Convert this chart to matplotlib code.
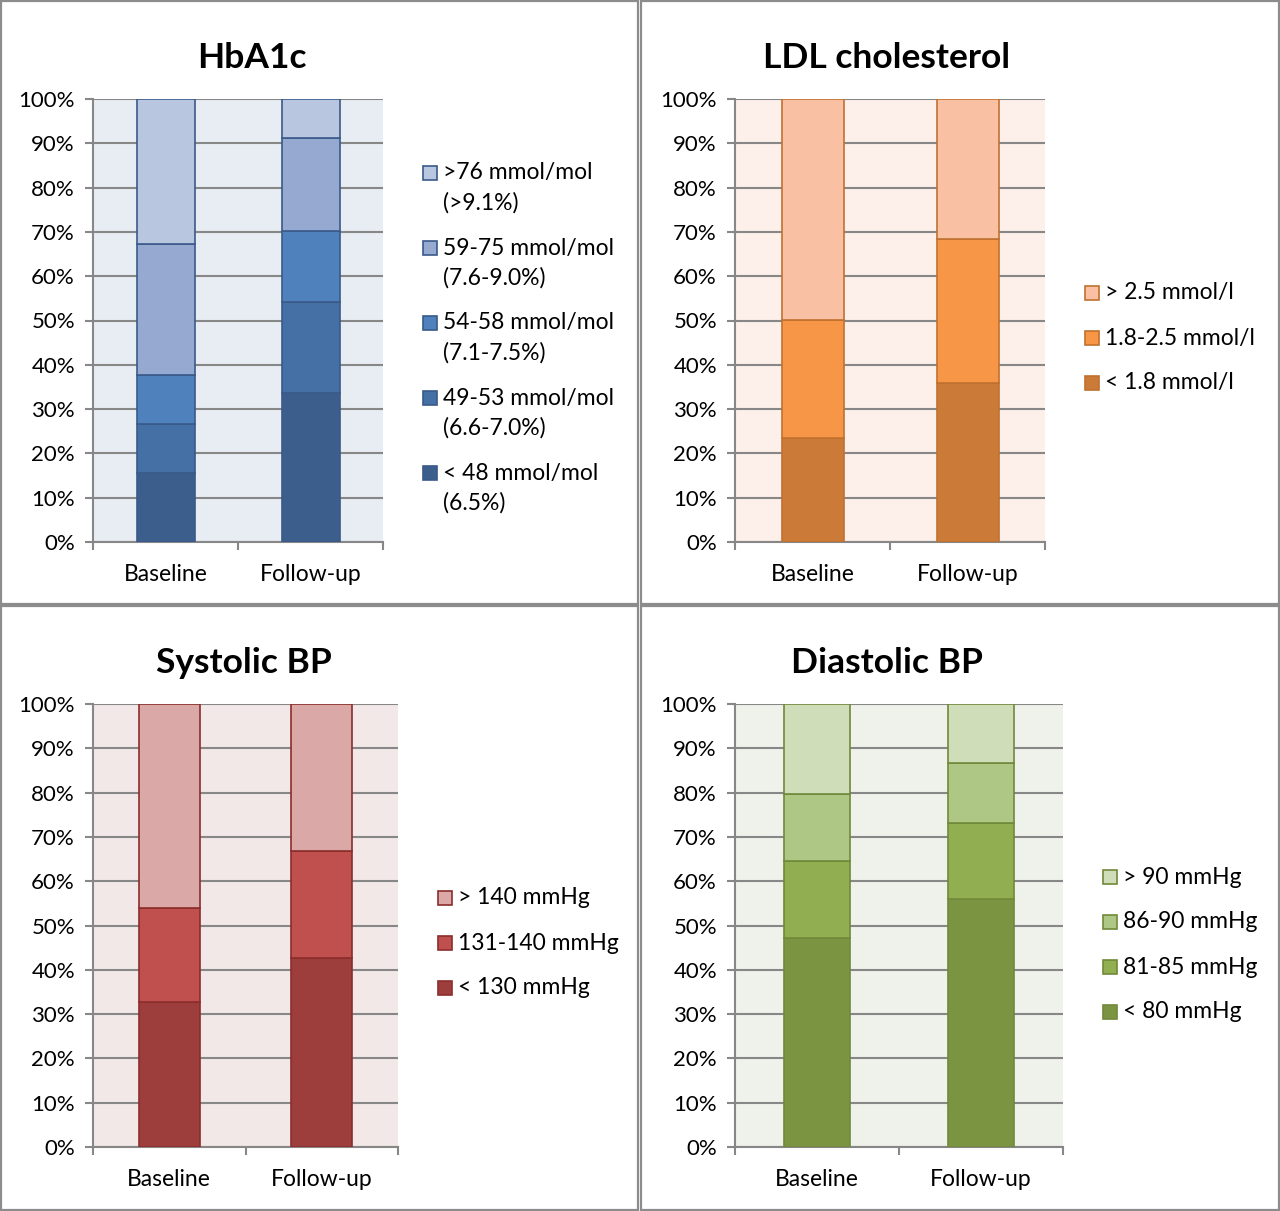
import matplotlib
matplotlib.use('Agg')
import matplotlib.pyplot as plt
from matplotlib.patches import Rectangle
import numpy as np

plt.rcParams['font.family'] = ['Lato', 'DejaVu Sans']

W, H = 1280, 1211

groups = ['Baseline', 'Follow-up']

# HbA1c (bottom segment first)
hba1c_labels = ['< 48 mmol/mol\n(6.5%)', '49-53 mmol/mol\n(6.6-7.0%)',
                '54-58 mmol/mol\n(7.1-7.5%)', '59-75 mmol/mol\n(7.6-9.0%)',
                '>76 mmol/mol\n(>9.1%)']
hba1c_baseline = [15.5, 11.1, 11.1, 29.5, 32.8]
hba1c_followup = [33.6, 20.6, 15.9, 21.2, 8.7]

# LDL cholesterol
ldl_labels = ['< 1.8 mmol/l', '1.8-2.5 mmol/l', '> 2.5 mmol/l']
ldl_baseline = [23.4, 26.7, 49.9]
ldl_followup = [36.0, 32.3, 31.7]

# Systolic BP
sys_labels = ['< 130 mmHg', '131-140 mmHg', '> 140 mmHg']
sys_baseline = [32.8, 21.1, 46.1]
sys_followup = [42.6, 24.3, 33.1]

# Diastolic BP
dia_labels = ['< 80 mmHg', '81-85 mmHg', '86-90 mmHg', '> 90 mmHg']
dia_baseline = [47.1, 17.5, 15.0, 20.4]
dia_followup = [55.9, 17.2, 13.5, 13.4]

fig = plt.figure(figsize=(W / 100, H / 100), dpi=100)
fig.patch.set_facecolor('white')


def px_rect(left, top, right, bottom):
    # pixel box -> figure fraction [x, y, w, h]
    return [left / W, 1 - bottom / H, (right - left) / W, (bottom - top) / H]


def draw_legend(labels, colors, edge, mx, my, pitch):
    # excel style legend: marker next to the first line of each label, top item = last series
    for k, i in enumerate(range(len(labels) - 1, -1, -1)):
        yc = my + k * pitch
        r = px_rect(mx, yc - 7, mx + 14, yc + 7)
        fig.add_artist(Rectangle((r[0], r[1]), r[2], r[3], transform=fig.transFigure,
                                 facecolor=colors[i], edgecolor=edge, linewidth=1.2))
        for j, line in enumerate(labels[i].split('\n')):
            fig.text((mx + 20) / W, 1 - (yc + 30 * j) / H, line, ha='left',
                     va='center', fontsize=16.5)


def draw_panel(box, ax_box, title, title_xy, labels, base, follow,
               colors, edge, bg, legend_spec):
    # panel frame
    bx = px_rect(*box)
    fig.add_artist(Rectangle((bx[0], bx[1]), bx[2], bx[3], transform=fig.transFigure,
                             fill=False, edgecolor='#8c8c8c', linewidth=1.6))

    ax = fig.add_axes(px_rect(*ax_box))
    ax.set_facecolor(bg)
    x = np.arange(len(groups))
    bottom = np.zeros(len(groups))
    for i, lab in enumerate(labels):
        vals = np.array([base[i], follow[i]])
        ax.bar(x, vals, 0.4, bottom=bottom, color=colors[i],
               edgecolor=edge, linewidth=1.2, label=lab, zorder=3)
        bottom += vals

    ax.set_xlim(-0.5, 1.5)
    ax.set_ylim(0, 100)
    ax.set_yticks(np.arange(0, 101, 10))
    ax.set_yticklabels(['%d%%' % v for v in range(0, 101, 10)])
    ax.yaxis.grid(True, color='#878787', linewidth=1.5, zorder=0)
    ax.set_axisbelow(True)

    ax.set_xticks([-0.5, 0.5, 1.5])
    ax.set_xticklabels([])
    ax.set_xticks(x, minor=True)
    ax.set_xticklabels(groups, minor=True)
    ax.tick_params(axis='x', which='major', length=6, width=1.5, color='#878787')
    ax.tick_params(axis='x', which='minor', length=0, pad=16, labelsize=16.5)
    ax.tick_params(axis='y', length=6, width=1.5, color='#878787', pad=7, labelsize=16)

    for s in ['top', 'right']:
        ax.spines[s].set_visible(False)
    for s in ['left', 'bottom']:
        ax.spines[s].set_color('#878787')
        ax.spines[s].set_linewidth(1.5)

    fig.text(title_xy[0] / W, 1 - title_xy[1] / H, title, ha='center', va='center',
             fontsize=25.5, fontweight='bold')

    draw_legend(labels, colors, edge, *legend_spec)
    return ax


draw_panel((1, 1, 638, 604), (93, 99, 383, 542), 'HbA1c', (252, 58),
           hba1c_labels, hba1c_baseline, hba1c_followup,
           ['#3B5E8C', '#4470A6', '#4F81BD', '#95A9D1', '#B9C6E0'],
           '#3A5A8A', '#E8EDF4', (423, 173, 75))

draw_panel((641, 1, 1279, 604), (735, 99, 1045, 542), 'LDL cholesterol', (887, 58),
           ldl_labels, ldl_baseline, ldl_followup,
           ['#CC7A37', '#F79646', '#F9C0A4'],
           '#C0712F', '#FDEFEA', (1085, 293, 45))

draw_panel((1, 606, 638, 1210), (93, 704, 398, 1147), 'Systolic BP', (244, 663),
           sys_labels, sys_baseline, sys_followup,
           ['#9E3E3C', '#C0504D', '#DBA8A8'],
           '#8B2E2C', '#F2E8E8', (438, 898, 45))

draw_panel((641, 606, 1279, 1210), (735, 704, 1063, 1147), 'Diastolic BP', (887, 663),
           dia_labels, dia_baseline, dia_followup,
           ['#7A9441', '#91AF50', '#AEC785', '#CFDDB8'],
           '#71893A', '#EFF2EA', (1103, 877, 45))

fig.savefig('out.png', dpi=100)
